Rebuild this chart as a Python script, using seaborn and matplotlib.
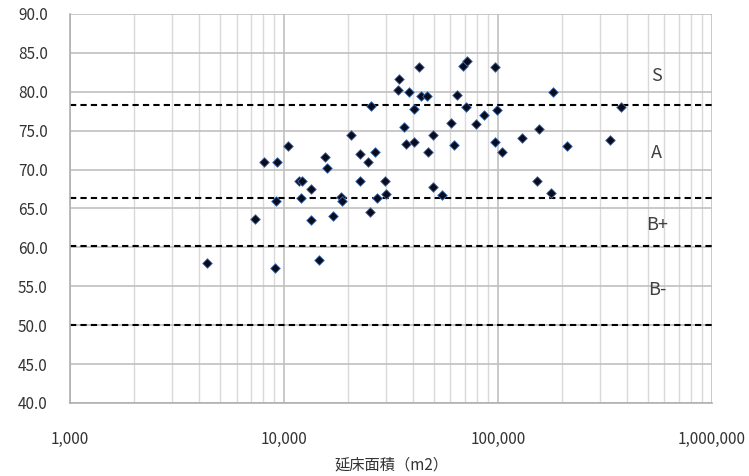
import numpy as np
import pandas as pd
import matplotlib
matplotlib.use("Agg")
import matplotlib.pyplot as plt
import matplotlib.ticker as mticker
import seaborn as sns

# --- data ---
floor_area = [4365, 7310, 8070, 9270, 9150, 9080, 10400, 11700, 12200, 12050,
              13400, 13350, 14650, 15600, 15800, 16900, 18400, 18700, 20600, 22700,
              22700, 24800, 25100, 25500, 26700, 27100, 29700, 29900, 34600, 34200,
              36500, 37300, 38400, 40400, 40400, 42800, 43800, 46800, 47300, 49600,
              49900, 54600, 60300, 62500, 64500, 68400, 71900, 70600, 78900, 85700,
              97200, 96800, 98900, 105000, 129000, 151700, 156000, 177000, 180000, 209500,
              333600, 376000]
score = [58.0, 63.6, 71.0, 71.0, 66.0, 57.4, 73.0, 68.5, 68.5, 66.4,
         67.5, 63.5, 58.4, 71.6, 70.2, 64.0, 66.5, 65.9, 74.5, 72.0,
         68.5, 71.0, 64.5, 78.2, 72.3, 66.4, 68.5, 66.8, 81.7, 80.2,
         75.5, 73.3, 80.0, 77.8, 73.5, 83.2, 79.5, 79.5, 72.3, 74.5,
         67.7, 66.7, 76.0, 73.1, 79.6, 83.3, 84.0, 78.0, 75.8, 77.0,
         83.2, 73.5, 77.7, 72.3, 74.0, 68.5, 75.2, 67.0, 80.0, 73.0,
         73.8, 78.0]

rank_lines = [78.3, 66.4, 60.2, 50.0]
rank_labels = ["S", "A", "B+", "B-"]
rank_label_y = [82.0, 72.1, 62.9, 54.5]

df = pd.DataFrame({"area": floor_area, "score": score})

sns.set_style("white")
plt.rcParams["font.family"] = ["Noto Sans CJK JP", "DejaVu Sans"]

fig = plt.figure(figsize=(7.49, 4.76), dpi=100)
ax = fig.add_axes([0.0935, 0.1534, 0.857, 0.8172])

ax.set_xscale("log")
ax.set_xlim(1000, 1000000)
ax.set_ylim(40, 90)

# grid like the spreadsheet chart
ax.xaxis.set_minor_locator(mticker.LogLocator(base=10, subs=np.arange(2, 10)))
ax.xaxis.set_minor_formatter(mticker.NullFormatter())
ax.grid(True, which="major", axis="both", color="#c0c0c0", linewidth=1.2)
ax.grid(True, which="minor", axis="x", color="#d9d9d9", linewidth=1.0)
ax.set_axisbelow(True)
for side in ["top", "right"]:
    ax.spines[side].set_visible(False)
for side in ["left", "bottom"]:
    ax.spines[side].set_color("#b0b0b0")
    ax.spines[side].set_linewidth(1.2)

for yv in rank_lines:
    ax.axhline(yv, color="black", linewidth=1.5, linestyle=(0, (3, 2)), zorder=2)

sns.scatterplot(data=df, x="area", y="score", marker="D", s=24, color="#0b0b1e",
                edgecolor="#3f72b8", linewidth=0.6, ax=ax, zorder=3)

for lab, yv in zip(rank_labels, rank_label_y):
    ax.text(553000, yv, lab, ha="center", va="center", fontsize=13, color="#404040")

ax.set_xticks([1000, 10000, 100000, 1000000])
ax.xaxis.set_major_formatter(mticker.FuncFormatter(lambda v, p: f"{int(v):,}"))
ax.set_yticks(np.arange(40, 91, 5))
ax.yaxis.set_major_formatter(mticker.FormatStrFormatter("%.1f"))
ax.tick_params(axis="both", which="both", length=0, labelsize=11, colors="#333333")
ax.tick_params(axis="y", pad=16)
ax.tick_params(axis="x", pad=20)

ax.set_xlabel("延床面積（m2）", fontsize=11, color="#333333", labelpad=6)
ax.set_ylabel("")

fig.savefig("out.png", dpi=100)
